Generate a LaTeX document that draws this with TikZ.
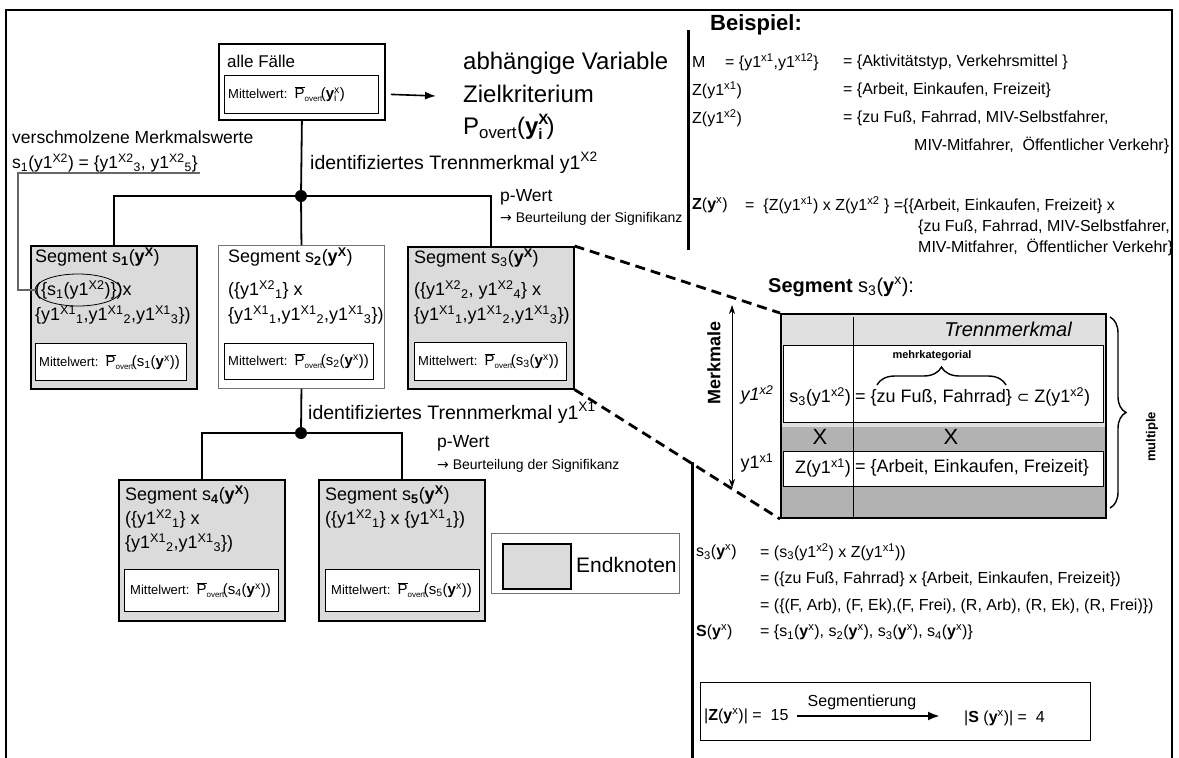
\documentclass[tikz,border=0pt]{standalone}
\usepackage{fontspec}
\setmainfont{Liberation Sans}
\newfontfamily\sym{DejaVu Sans}
\usetikzlibrary{arrows.meta,decorations.pathreplacing,shapes.geometric}

\newcommand\hoch[1]{\textsuperscript{#1}}
\newcommand\tief[1]{\textsubscript{#1}}
\newcommand\stk[2]{\rlap{\textsuperscript{#1}}\rlap{\textsubscript{#2}}\phantom{\textsuperscript{#1}}}
\newcommand\fs[2]{\fontsize{#1}{#2}\selectfont}
% mean value symbol: P with a bar and a tiny "overt" index
\newcommand\Pov{{\fs{15}{17}\ensuremath{\overline{\mbox{P}}}}\raisebox{-3pt}{\fs{8}{9}overt}\kern-1.5pt}
\newcommand\yb{\textbf{y}}
\newcommand\mw[1]{Mittelwert:\hspace{0.55em}\Pov{\fs{15}{17}(#1)}}

\tikzset{
  lbl/.style={inner sep=0pt, anchor=west},
  endk/.style={draw, line width=1.6pt, fill=black!14, anchor=north west, inner sep=0pt},
  plainbox/.style={draw=black!55, line width=0.9pt, fill=white, anchor=north west, inner sep=0pt},
  innerbox/.style={draw, line width=0.8pt, fill=white, anchor=north west, inner sep=0pt},
  conn/.style={line width=1.8pt},
  knot/.style={circle, fill=black, inner sep=0pt, minimum size=12pt},
  zoomline/.style={line width=2.8pt, dash pattern=on 10pt off 6pt},
  segtxt/.style={lbl, font=\fs{18}{21}},
  mwtxt/.style={lbl, font=\fs{13}{15}},
  rtxt/.style={lbl, font=\fs{16}{19}},
  bigtxt/.style={lbl, font=\fs{24}{28}},
  tabtxt/.style={inner sep=0pt, font=\fs{18}{21}},
}

\begin{document}
\begin{tikzpicture}[x=1pt,y=1pt]
\useasboundingbox (0,0) rectangle (1179,-758);

% outer frame and divider
\draw[line width=1.5pt] (6,-790) -- (6,-10) -- (1172,-10) -- (1172,-790);
\draw[line width=3pt] (688,-30) -- (688,-250);
\draw[line width=3pt] (692,-462) -- (692,-790);

% ---------- root node ----------
\node[plainbox, draw=black, line width=1.8pt, minimum width=166pt, minimum height=76pt] (alle) at (218,-43) {};
\node[innerbox, minimum width=154pt, minimum height=38pt] (alleMw) at (224,-75) {};
\node[lbl, font=\fs{17}{20}] (alleT) at (227,-61) {alle Fälle};
\node[mwtxt] (alleMwT) at (228,-94) {\mw{\yb\stk{x}{i}}};

\coordinate (zielpfeil) at (436,-96);
\draw[line width=1.6pt, -{Latex[length=11pt,width=8pt]}] ([xshift=5pt]alle.east |- alleMw.center) -- (zielpfeil);
\node[bigtxt] (zielA) at (463,-63) {abhängige Variable};
\node[bigtxt] (zielB) at (463,-94) {Zielkriterium};
\node[bigtxt] (zielC) at (463,-127) {P\tief{overt}(\textbf{y}\rlap{\raisebox{0.42em}{\fs{15}{17}\textbf{X}}}\raisebox{-0.22em}{\fs{15}{17}\textbf{i}}\hspace{4pt})};

% ---------- first split ----------
\node[knot] (k1) at (301,-196) {};
\node[lbl, font=\fs{19.5}{22}] (tm1) at (310,-163) {identifiziertes Trennmerkmal y1\hoch{X2}};
\node[lbl, font=\fs{17.5}{20}] (pw1) at (500,-197) {p-Wert};
\node[lbl, font=\fs{14}{16}] (bs1) at (500,-219) {{\sym →} Beurteilung der Signifikanz};

\node[endk, minimum width=166pt, minimum height=143pt] (s1) at (30,-245) {};
\node[plainbox, minimum width=166pt, minimum height=143pt] (s2) at (218,-245) {};
\node[endk, minimum width=166pt, minimum height=142pt] (s3) at (407,-246) {};

\draw[conn] (alle.south) -- (k1);
\draw[conn] (k1) -| (s1.north);
\draw[conn] (k1) -- (s2.north);
\draw[conn] (k1) -| (s3.north);

% segment s1
\node[segtxt] (s1a) at (35,-257) {Segment s\tief{\textbf{1}}(\yb\hoch{\textbf{X}})};
\node[segtxt] (s1b) at (35,-290) {(\{s\tief{1}(y1\hoch{X2})\})x};
\node[segtxt] (s1c) at (35,-315) {\{y1\hoch{X1}\tief{1},y1\hoch{X1}\tief{2},y1\hoch{X1}\tief{3}\})};
\node[innerbox, minimum width=151pt, minimum height=37pt] (s1m) at (35,-343) {};
\node[mwtxt] (s1mT) at (39,-362) {\mw{s\tief{1}(\yb\hoch{x})}};
\node[ellipse, draw, line width=0.8pt, minimum width=86pt, minimum height=32pt] (ell) at (78,-290) {};

% merged values note
\node[lbl, font=\fs{17.5}{20}] (vm) at (12,-137) {verschmolzene Merkmalswerte};
\node[lbl, font=\fs{17.5}{20}] (vmS) at (12,-163) {s\tief{1}(y1\hoch{X2}) = \{y1\hoch{X2}\tief{3}, y1\hoch{X2}\tief{5}\}};
\coordinate (ulA) at (200,-173);
\coordinate (ulB) at (18,-173);
\draw[black!60, line width=1.1pt] (ulA) -- (ulB) |- (ell.west);

% segment s2
\node[segtxt] (s2a) at (228,-257) {Segment s\tief{\textbf{2}}(\yb\hoch{\textbf{X}})};
\node[segtxt] (s2b) at (228,-290) {(\{y1\hoch{X2}\tief{1}\} x};
\node[segtxt] (s2c) at (228,-315) {\{y1\hoch{X1}\tief{1},y1\hoch{X1}\tief{2},y1\hoch{X1}\tief{3}\})};
\node[innerbox, minimum width=149pt, minimum height=36pt] (s2m) at (224,-343) {};
\node[mwtxt] (s2mT) at (228,-361) {\mw{s\tief{2}(\yb\hoch{x})}};

% segment s3
\node[segtxt] (s3a) at (414,-258) {Segment s\tief{3}(\yb\hoch{\textbf{X}})};
\node[segtxt] (s3b) at (414,-290) {(\{y1\hoch{X2}\tief{2}, y1\hoch{X2}\tief{4}\} x};
\node[segtxt] (s3c) at (414,-315) {\{y1\hoch{X1}\tief{1},y1\hoch{X1}\tief{2},y1\hoch{X1}\tief{3}\})};
\node[innerbox, minimum width=152pt, minimum height=38pt] (s3m) at (414,-342) {};
\node[mwtxt] (s3mT) at (418,-361) {\mw{s\tief{3}(\yb\hoch{x})}};

% ---------- second split ----------
\node[knot] (k2) at (301,-433) {};
\node[lbl, font=\fs{19.5}{22}] (tm2) at (308,-413) {identifiziertes Trennmerkmal y1\hoch{X1}};
\node[lbl, font=\fs{17.5}{20}] (pw2) at (437,-443) {p-Wert};
\node[lbl, font=\fs{14}{16}] (bs2) at (437,-466) {{\sym →} Beurteilung der Signifikanz};

\node[endk, minimum width=166pt, minimum height=141pt] (s4) at (118,-479) {};
\node[endk, minimum width=166pt, minimum height=141pt] (s5) at (318,-479) {};

\draw[conn] (s2.south) -- (k2);
\draw[conn] (k2) -| (s4.north);
\draw[conn] (k2) -| (s5.north);

% segment s4
\node[segtxt] (s4a) at (125,-495) {Segment s\tief{\textbf{4}}(\yb\hoch{\textbf{X}})};
\node[segtxt] (s4b) at (125,-519) {(\{y1\hoch{X2}\tief{1}\} x};
\node[segtxt] (s4c) at (125,-543) {\{y1\hoch{X1}\tief{2},y1\hoch{X1}\tief{3}\})};
\node[innerbox, minimum width=154pt, minimum height=42pt] (s4m) at (124,-569) {};
\node[mwtxt] (s4mT) at (130,-590) {\mw{s\tief{4}(\yb\hoch{x})}};

% segment s5
\node[segtxt] (s5a) at (325,-495) {Segment s\tief{\textbf{5}}(\yb\hoch{\textbf{X}})};
\node[segtxt] (s5b) at (325,-519) {(\{y1\hoch{X2}\tief{1}\} x \{y1\hoch{X1}\tief{1}\})};
\node[innerbox, minimum width=154pt, minimum height=42pt] (s5m) at (325,-569) {};
\node[mwtxt] (s5mT) at (331,-590) {\mw{s\tief{5}(\yb\hoch{x})}};

% legend
\node[plainbox, minimum width=188pt, minimum height=60pt] (leg) at (491,-533) {};
\node[endk, minimum width=68pt, minimum height=45pt] (legBox) at (502,-543) {};
\node[lbl, font=\fs{21}{25}] (legT) at (576,-565) {Endknoten};

% ---------- example panel ----------
\node[lbl, font=\bfseries\fs{22}{26}] (bsp) at (710,-25) {Beispiel:};
\node[rtxt] (mA) at (692,-62) {M};
\node[rtxt] (mB) at (725,-62) {= \{y1\hoch{x1},y1\hoch{x12}\}};
\node[rtxt] (mC) at (843,-62) {= \{Aktivitätstyp, Verkehrsmittel \}};
\node[rtxt] (z1A) at (692,-90) {Z(y1\hoch{x1})};
\node[rtxt] (z1C) at (843,-90) {= \{Arbeit, Einkaufen, Freizeit\}};
\node[rtxt] (z2A) at (692,-118) {Z(y1\hoch{x2})};
\node[rtxt] (z2C) at (843,-118) {= \{zu Fuß, Fahrrad, MIV-Selbstfahrer,};
\node[rtxt] (z2D) at (914,-145) {MIV-Mitfahrer,\ \ Öffentlicher Verkehr\}};
\node[rtxt] (zA) at (692,-205) {\textbf{Z}(\yb\hoch{x})};
\node[rtxt] (zB) at (745,-205) {=\ \ \{Z(y1\hoch{x1}) x Z(y1\hoch{x2} \} =\{\{Arbeit, Einkaufen, Freizeit\} x};
\node[rtxt] (zC) at (918,-227) {\{zu Fuß, Fahrrad, MIV-Selbstfahrer,};
\node[rtxt] (zD) at (918,-247) {MIV-Mitfahrer,\ \ Öffentlicher Verkehr\}};

% ---------- zoomed segment s3 ----------
\node[lbl, font=\fs{20}{24}] (tabT) at (768,-287) {\textbf{Segment} s\tief{3}(\yb\hoch{x}):};
\fill[black!12] (780,-313) rectangle (1105,-427);
\fill[black!30] (780,-427) rectangle (1105,-517);
\node[innerbox, minimum width=320pt, minimum height=77pt] (rowA) at (783,-345) {};
\node[innerbox, minimum width=320pt, minimum height=35pt] (rowB) at (783,-451) {};
\draw[line width=0.6pt] (853,-317) -- (853,-517);
\node[draw, line width=2pt, anchor=north west, inner sep=0pt, minimum width=325pt, minimum height=204pt] (tab) at (780,-313) {};

\node[inner sep=0pt, anchor=east, font=\itshape\fs{20}{24}] (trenn) at (1072,-329) {Trennmerkmal};
\node[tabtxt, anchor=east] (rAl) at (851,-397) {s\tief{3}(y1\hoch{x2})};
\node[tabtxt, anchor=west] (rAr) at (855,-397) {= \{zu Fuß, Fahrrad\} {\sym\fs{15}{18}⊂} Z(y1\hoch{x2})};
\node[tabtxt, anchor=east] (rBl) at (851,-468) {Z(y1\hoch{x1})};
\node[tabtxt, anchor=west] (rBr) at (855,-468) {= \{Arbeit, Einkaufen, Freizeit\}};
\node[inner sep=0pt, font=\fs{22}{26}] (xA) at (820,-437) {X};
\node[inner sep=0pt, font=\fs{22}{26}] (xB) at (951,-437) {X};

\coordinate (brL) at (877,-385);
\coordinate (brR) at (1006,-385);
\draw[decorate, decoration={brace, amplitude=18pt}, line width=1.4pt] (brL) -- (brR);
\node[inner sep=0pt, font=\bfseries\fs{11}{13}] (mehr) at (932,-356) {mehrkategorial};

\coordinate (mbT) at (1110,-317);
\coordinate (mbB) at (1110,-508);
\draw[decorate, decoration={brace, amplitude=16pt}, line width=1.4pt] (mbT) -- (mbB);
\node[inner sep=0pt, rotate=90, font=\bfseries\fs{13}{15}] (mult) at (1152,-437) {multiple};

\coordinate (mkT) at (732,-305);
\coordinate (mkB) at (732,-488);
\draw[line width=0.8pt, {Stealth[length=9pt,width=6pt]}-{Stealth[length=9pt,width=6pt]}] (mkT) -- (mkB);
\node[inner sep=0pt, rotate=90, font=\bfseries\fs{18}{21}] (merk) at (714,-363) {Merkmale};
\node[inner sep=0pt, font=\itshape\fs{18}{21}] (ya) at (757,-395) {y1\hoch{x2}};
\node[inner sep=0pt, font=\fs{18}{21}] (yb) at (757,-463) {y1\hoch{x1}};

\draw[zoomline] (s3.north east) -- (tab.north west);
\draw[zoomline] (s3.south east) -- (tab.south west);

% ---------- result ----------
\node[rtxt] (r1A) at (696,-552) {s\tief{3}(\yb\hoch{x})};
\node[rtxt] (r1B) at (760,-552) {= (s\tief{3}(y1\hoch{x2}) x Z(y1\hoch{x1}))};
\node[rtxt] (r2B) at (760,-579) {= (\{zu Fuß, Fahrrad\} x \{Arbeit, Einkaufen, Freizeit\})};
\node[rtxt] (r3B) at (760,-606) {= (\{(F, Arb), (F, Ek),(F, Frei), (R, Arb), (R, Ek), (R, Frei)\})};
\node[rtxt] (r4A) at (696,-632) {\textbf{S}(\yb\hoch{x})};
\node[rtxt] (r4B) at (760,-632) {= \{s\tief{1}(\yb\hoch{x}), s\tief{2}(\yb\hoch{x}), s\tief{3}(\yb\hoch{x}), s\tief{4}(\yb\hoch{x})\}};

\node[draw, line width=0.9pt, anchor=north west, inner sep=0pt, minimum width=390pt, minimum height=58pt] (res) at (700,-682) {};
\node[rtxt] (zAnz) at (704,-716) {|\textbf{Z}(\yb\hoch{x})|\ =\ \ 15};
\node[rtxt] (sAnz) at (964,-718) {|\textbf{S} (\yb\hoch{x})|\ =\ \ 4};
\draw[line width=2.5pt, -{Latex[length=12pt,width=9pt]}] ([xshift=8pt]zAnz.east) -- ([xshift=-24pt]sAnz.west |- zAnz.east);
\node[inner sep=0pt, font=\fs{16}{19}] (segm) at (862,-702) {Segmentierung};
\end{tikzpicture}
\end{document}
